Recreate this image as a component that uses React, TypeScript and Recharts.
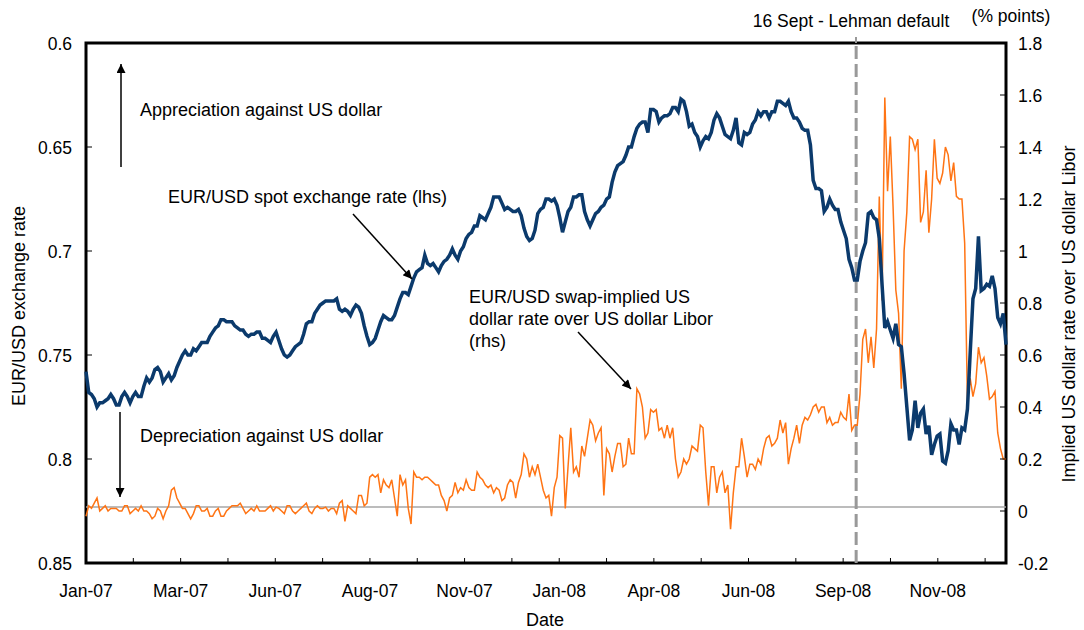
import React from 'react';
import { ComposedChart, Line, XAxis, YAxis, ReferenceLine, ReferenceArea } from 'recharts';

const FONT = '"Liberation Sans", Arial, Helvetica, sans-serif';

// tick labels under every second tick mark
const xLabels = ['Jan-07', 'Mar-07', 'Jun-07', 'Aug-07', 'Nov-07', 'Jan-08', 'Apr-08', 'Jun-08', 'Sep-08', 'Nov-08'];

// EUR/USD spot exchange rate (lhs), sampled every ~3 trading days
const eurUsd = [
  0.758, 0.769, 0.775, 0.773, 0.771, 0.771, 0.774, 0.768, 0.773, 0.768,
  0.770, 0.761, 0.761, 0.756, 0.763, 0.759, 0.760, 0.753, 0.748, 0.750,
  0.748, 0.744, 0.744, 0.739, 0.736, 0.733, 0.734, 0.736, 0.738, 0.740,
  0.740, 0.739, 0.742, 0.743, 0.741, 0.743, 0.750, 0.750, 0.746, 0.744,
  0.735, 0.734, 0.728, 0.725, 0.724, 0.724, 0.728, 0.728, 0.731, 0.726,
  0.730, 0.741, 0.744, 0.738, 0.731, 0.733, 0.731, 0.723, 0.720, 0.717,
  0.710, 0.708, 0.706, 0.706, 0.710, 0.705, 0.702, 0.702, 0.700, 0.694,
  0.691, 0.688, 0.684, 0.682, 0.674, 0.674, 0.680, 0.680, 0.681, 0.683,
  0.693, 0.694, 0.682, 0.679, 0.675, 0.675, 0.684, 0.686, 0.679, 0.674,
  0.673, 0.685, 0.685, 0.681, 0.678, 0.674, 0.662, 0.658, 0.654, 0.650,
  0.641, 0.638, 0.643, 0.632, 0.638, 0.635, 0.634, 0.631, 0.627, 0.633,
  0.639, 0.645, 0.647, 0.646, 0.637, 0.636, 0.644, 0.646, 0.636, 0.649,
  0.644, 0.639, 0.633, 0.633, 0.636, 0.633, 0.628, 0.630, 0.633, 0.636,
  0.641, 0.642, 0.666, 0.670, 0.681, 0.675, 0.680, 0.686, 0.694, 0.708,
  0.714, 0.700, 0.682, 0.684, 0.694, 0.737, 0.738, 0.735, 0.746, 0.775,
  0.786, 0.785, 0.776, 0.784, 0.793, 0.788, 0.802, 0.783, 0.786, 0.785,
  0.776, 0.723, 0.693, 0.718, 0.717, 0.718, 0.735, 0.745,
];

// readings halfway between the samples above
const eurUsdMid = [
  0.768, 0.771, 0.773, 0.772, 0.769, 0.774, 0.770, 0.770, 0.770, 0.770,
  0.765, 0.763, 0.757, 0.758, 0.761, 0.762, 0.756, 0.750, 0.750, 0.747,
  0.746, 0.744, 0.741, 0.737, 0.733, 0.734, 0.734, 0.737, 0.738, 0.741,
  0.740, 0.739, 0.742, 0.744, 0.739, 0.747, 0.751, 0.748, 0.745, 0.740,
  0.734, 0.730, 0.726, 0.724, 0.724, 0.723, 0.729, 0.729, 0.728, 0.727,
  0.736, 0.745, 0.742, 0.734, 0.732, 0.733, 0.727, 0.720, 0.721, 0.713,
  0.709, 0.702, 0.707, 0.708, 0.707, 0.704, 0.699, 0.704, 0.698, 0.692,
  0.688, 0.683, 0.685, 0.679, 0.674, 0.677, 0.679, 0.681, 0.680, 0.689,
  0.695, 0.690, 0.680, 0.675, 0.676, 0.678, 0.691, 0.681, 0.674, 0.673,
  0.681, 0.688, 0.682, 0.679, 0.675, 0.667, 0.659, 0.657, 0.650, 0.645,
  0.639, 0.638, 0.632, 0.633, 0.636, 0.635, 0.631, 0.633, 0.628, 0.640,
  0.643, 0.650, 0.645, 0.643, 0.634, 0.640, 0.645, 0.642, 0.648, 0.643,
  0.643, 0.637, 0.635, 0.633, 0.633, 0.628, 0.629, 0.628, 0.636, 0.638,
  0.642, 0.649, 0.670, 0.671, 0.679, 0.678, 0.680, 0.690, 0.704, 0.714,
  0.705, 0.696, 0.681, 0.685, 0.716, 0.734, 0.742, 0.745, 0.759, 0.791,
  0.772, 0.778, 0.788, 0.798, 0.789, 0.801, 0.796, 0.786, 0.793, 0.786,
  0.749, 0.718, 0.719, 0.716, 0.712, 0.732, 0.730,
];

// EUR/USD swap-implied US dollar rate over US dollar Libor (rhs, % points)
const swapSpread = [
  -0.02, 0.01, 0.05, 0.01, 0.00, 0.01, 0.00, 0.02, -0.01, 0.01,
  0.02, 0.00, -0.03, 0.01, -0.03, 0.02, 0.09, 0.03, 0.01, -0.03,
  0.02, 0.00, 0.01, -0.02, 0.01, -0.02, 0.01, 0.02, 0.03, -0.01,
  0.01, 0.02, 0.00, 0.01, 0.00, 0.01, -0.01, 0.02, -0.01, 0.01,
  0.03, -0.01, 0.02, 0.01, 0.00, 0.01, 0.03, -0.04, 0.01, -0.01,
  0.06, 0.03, 0.14, 0.14, 0.12, 0.09, 0.05, 0.14, 0.12, -0.05,
  0.13, 0.12, 0.13, 0.11, 0.10, 0.04, 0.05, 0.11, 0.09, 0.12,
  0.08, 0.15, 0.12, 0.09, 0.07, 0.08, 0.05, 0.12, 0.05, 0.14,
  0.20, 0.17, 0.18, 0.08, 0.06, 0.09, 0.29, 0.01, 0.32, 0.17,
  0.25, 0.28, 0.33, 0.30, 0.06, 0.22, 0.21, 0.26, 0.18, 0.22,
  0.47, 0.40, 0.30, 0.38, 0.31, 0.28, 0.28, 0.20, 0.15, 0.18,
  0.25, 0.23, 0.32, 0.02, 0.17, 0.13, 0.07, -0.07, 0.17, 0.28,
  0.13, 0.18, 0.20, 0.24, 0.29, 0.26, 0.35, 0.34, 0.24, 0.33,
  0.33, 0.35, 0.40, 0.38, 0.40, 0.36, 0.34, 0.38, 0.35, 0.31,
  0.33, 0.66, 0.57, 0.55, 1.21, 1.59, 1.44, 0.85, 0.47, 1.15,
  1.43, 1.43, 1.15, 1.07, 1.43, 1.26, 1.40, 1.27, 1.21, 1.20,
  0.42, 0.44, 0.63, 0.59, 0.43, 0.46, 0.24, 0.20,
];

const swapSpreadMid = [
  0.02, 0.03, 0.00, 0.02, 0.01, 0.01, 0.00, 0.02, 0.00, 0.00,
  0.00, -0.01, -0.02, 0.00, 0.00, 0.08, 0.05, 0.01, -0.01, -0.01,
  0.02, 0.00, -0.02, 0.00, -0.02, 0.00, 0.02, 0.02, 0.01, 0.00,
  0.00, 0.00, 0.00, 0.02, 0.015, 0.00, 0.02, 0.00, 0.00, 0.02,
  0.00, 0.01, 0.01, 0.015, 0.01, -0.01, 0.04, 0.02, 0.00, 0.06,
  0.02, 0.13, 0.13, 0.07, 0.10, 0.12, -0.02, 0.10, 0.01, 0.15,
  0.13, 0.13, 0.12, 0.10, 0.06, 0.00, 0.06, 0.07, 0.08, 0.09,
  0.08, 0.13, 0.10, 0.10, 0.09, 0.04, 0.10, 0.11, 0.11, 0.22,
  0.13, 0.14, 0.13, 0.05, -0.02, 0.13, 0.28, 0.17, 0.15, 0.13,
  0.21, 0.35, 0.27, 0.32, 0.24, 0.15, 0.26, 0.17, 0.28, 0.22,
  0.45, 0.28, 0.39, 0.39, 0.32, 0.33, 0.32, 0.13, 0.20, 0.20,
  0.24, 0.33, 0.15, 0.17, 0.07, 0.15, 0.10, 0.07, 0.17, 0.21,
  0.18, 0.16, 0.18, 0.28, 0.25, 0.28, 0.30, 0.18, 0.28, 0.26,
  0.36, 0.37, 0.41, 0.40, 0.34, 0.33, 0.34, 0.36, 0.45, 0.33,
  0.45, 0.70, 0.67, 0.70, 0.81, 1.23, 1.17, 0.76, 1.00, 1.44,
  1.39, 1.11, 1.31, 1.20, 1.28, 1.30, 1.37, 1.34, 1.20, 1.03,
  0.51, 0.49, 0.57, 0.52, 0.44, 0.30, 0.20,
];

const leftTicks = [0.6, 0.65, 0.7, 0.75, 0.8, 0.85];
const rightTicks = [-0.2, 0, 0.2, 0.4, 0.6, 0.8, 1, 1.2, 1.4, 1.6, 1.8];

const lehmanIndex = 139.8; // 16 Sept 2008
const baseLine = 0.015;

const TICK_STEP = 8.59;
const xTicks = Array.from({ length: 20 }, (_, k) => +(k * TICK_STEP).toFixed(2));

// merge full-step and half-step readings into one series
const weave = (full: number[], mid: number[]) =>
  full.flatMap((v, i) => (i < mid.length ? [{ x: i, v }, { x: i + 0.5, v: mid[i] }] : [{ x: i, v }]));

const spotData = weave(eurUsd, eurUsdMid);
const swapData = weave(swapSpread, swapSpreadMid);

const XTick = (props: any) => {
  const { x, y, index } = props;
  const label = index % 2 === 0 ? xLabels[index / 2] : '';
  return (
    <g>
      {index > 0 && <line x1={x} x2={x} y1={y} y2={y - 5} stroke="#000" strokeWidth={1} />}
      {label && (
        <text x={x} y={y + 34} textAnchor="middle" fontSize={17.5} fontFamily={FONT} fill="#000">
          {label}
        </text>
      )}
    </g>
  );
};

const LeftTick = (props: any) => {
  const { x, y, payload } = props;
  return (
    <g>
      <line x1={x} x2={x + 6} y1={y} y2={y} stroke="#000" strokeWidth={1} />
      <text x={x - 14} y={y + 7} textAnchor="end" fontSize={17.5} fontFamily={FONT} fill="#000">
        {String(payload.value)}
      </text>
    </g>
  );
};

const RightTick = (props: any) => {
  const { x, y, payload } = props;
  return (
    <g>
      <line x1={x} x2={x - 6} y1={y} y2={y} stroke="#000" strokeWidth={1} />
      <text x={x + 12} y={y + 7} textAnchor="start" fontSize={17.5} fontFamily={FONT} fill="#000">
        {String(payload.value)}
      </text>
    </g>
  );
};

const App: React.FC = () => {
  return (
    <div style={{ position: 'absolute', left: 0, top: 0, width: 1084, height: 630, background: '#fff' }}>
      <ComposedChart width={1084} height={630} margin={{ top: 43, right: 18, bottom: 37, left: 26 }}>
        <XAxis
          dataKey="x"
          type="number"
          domain={[0, 167]}
          ticks={xTicks}
          interval={0}
          tickSize={0}
          tickMargin={0}
          tickLine={false}
          tick={<XTick />}
          axisLine={false}
          height={30}
          allowDuplicatedCategory={false}
        />
        <YAxis
          yAxisId="left"
          reversed
          domain={[0.6, 0.85]}
          ticks={leftTicks}
          interval={0}
          tickSize={0}
          tickMargin={0}
          tickLine={false}
          tick={<LeftTick />}
          axisLine={false}
          width={60}
        />
        <YAxis
          yAxisId="right"
          orientation="right"
          domain={[-0.2, 1.8]}
          ticks={rightTicks}
          interval={0}
          tickSize={0}
          tickMargin={0}
          tickLine={false}
          tick={<RightTick />}
          axisLine={false}
          width={60}
        />
        <ReferenceLine yAxisId="right" y={baseLine} stroke="#a6a6a6" strokeWidth={1.5} />
        <ReferenceLine yAxisId="left" x={lehmanIndex} stroke="#999" strokeWidth={3} strokeDasharray="13 5" />
        <Line
          yAxisId="right"
          data={swapData}
          type="linear"
          dataKey="v"
          stroke="#ff7414"
          strokeWidth={1.5}
          dot={false}
          isAnimationActive={false}
        />
        <Line
          yAxisId="left"
          data={spotData}
          type="linear"
          dataKey="v"
          stroke="#0b3a6c"
          strokeWidth={3.5}
          dot={false}
          isAnimationActive={false}
        />
        <ReferenceArea
          yAxisId="left"
          x1={0}
          x2={167}
          y1={0.6}
          y2={0.85}
          fill="none"
          fillOpacity={0}
          stroke="#000"
          strokeWidth={3}
        />
      </ComposedChart>

      <svg
        width={1084}
        height={630}
        style={{ position: 'absolute', left: 0, top: 0, pointerEvents: 'none' }}
        fontFamily={FONT}
      >
        <defs>
          <marker
            id="ah"
            viewBox="0 0 10 10"
            refX={10}
            refY={5}
            markerWidth={11}
            markerHeight={9}
            markerUnits="userSpaceOnUse"
            orient="auto"
          >
            <path d="M0,0 L10,5 L0,10 z" fill="#000" />
          </marker>
        </defs>
        <line x1={121} y1={167} x2={121} y2={64} stroke="#000" strokeWidth={1.5} markerEnd="url(#ah)" />
        <line x1={120} y1={412} x2={120} y2={497} stroke="#000" strokeWidth={1.5} markerEnd="url(#ah)" />
        <line x1={353} y1={214} x2={412} y2={279} stroke="#000" strokeWidth={1.5} markerEnd="url(#ah)" />
        <line x1={578} y1={332} x2={631} y2={389} stroke="#000" strokeWidth={1.5} markerEnd="url(#ah)" />

        <text x={140} y={116} fontSize={18} fill="#000">Appreciation against US dollar</text>
        <text x={168} y={203} fontSize={18} fill="#000">EUR/USD spot exchange rate (lhs)</text>
        <text x={140} y={442} fontSize={18} fill="#000">Depreciation against US dollar</text>
        <text x={469} y={303} fontSize={18} fill="#000">EUR/USD swap-implied US</text>
        <text x={469} y={325} fontSize={18} fill="#000">dollar rate over US dollar Libor</text>
        <text x={469} y={347} fontSize={18} fill="#000">(rhs)</text>

        <line x1={856} y1={37} x2={856} y2={43} stroke="#999" strokeWidth={2} />
        <text x={851} y={27} fontSize={17.5} textAnchor="middle" fill="#000">16 Sept - Lehman default</text>
        <text x={1011} y={22} fontSize={17.5} textAnchor="middle" fill="#000">(% points)</text>

        <text x={545} y={626} fontSize={18} textAnchor="middle" fill="#000">Date</text>
        <text x={25} y={306} fontSize={18} textAnchor="middle" fill="#000" transform="rotate(-90 25 306)">
          EUR/USD exchange rate
        </text>
        <text x={1075} y={314} fontSize={18} textAnchor="middle" fill="#000" transform="rotate(-90 1075 314)">
          Implied US dollar rate over US dollar Libor
        </text>
      </svg>
    </div>
  );
};

export default App;
